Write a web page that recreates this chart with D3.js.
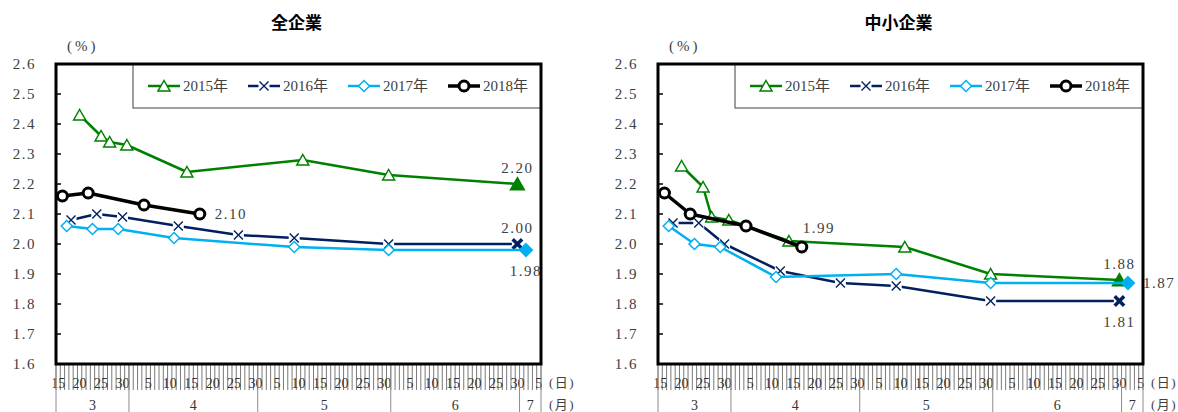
<!DOCTYPE html>
<html>
<head>
<meta charset="utf-8">
<script src="https://cdn.jsdelivr.net/npm/d3@7"></script>
<style>
  body { margin: 0; background: #fff; }
  svg { display: block; }
</style>
</head>
<body>
<svg id="chart" width="1178" height="412"></svg>
<script>
// ---- data -------------------------------------------------------------
// Survey dates (month-day) for each year
const dates2015 = ["03-20", "03-25", "03-27", "03-31", "04-14", "05-11", "05-31", "06-30"];
const dates2016 = ["03-18", "03-24", "03-30", "04-12", "04-26", "05-09", "05-31", "06-30"];
const dates2017 = ["03-17", "03-23", "03-29", "04-11", "05-09", "05-31", "07-02"];
const dates2018 = ["03-16", "03-22", "04-04", "04-17"];

// 全企業 (%)
const allFirms2015 = [2.43, 2.36, 2.34, 2.33, 2.24, 2.28, 2.23, 2.20];
const allFirms2016 = [2.08, 2.10, 2.09, 2.06, 2.03, 2.02, 2.00, 2.00];
const allFirms2017 = [2.06, 2.05, 2.05, 2.02, 1.99, 1.98, 1.98];
const allFirms2018 = [2.16, 2.17, 2.13, 2.10];

// 中小企業 (%)
const smallFirms2015 = [2.26, 2.19, 2.09, 2.08, 2.01, 1.99, 1.90, 1.88];
const smallFirms2016 = [2.07, 2.07, 2.00, 1.91, 1.87, 1.86, 1.81, 1.81];
const smallFirms2017 = [2.06, 2.00, 1.99, 1.89, 1.90, 1.87, 1.87];
const smallFirms2018 = [2.17, 2.10, 2.06, 1.99];

const seriesNames = ["2015年", "2016年", "2017年", "2018年"];
const monthLabels = ["3", "4", "5", "6", "7"];
const yTickValues = [1.6, 1.7, 1.8, 1.9, 2.0, 2.1, 2.2, 2.3, 2.4, 2.5, 2.6];

// Value labels: which series' last point is annotated and where the text sits
const allFirmsLabels = [
  { series: 0, place: "above" },
  { series: 1, place: "above" },
  { series: 2, place: "below" },
  { series: 3, place: "right" }
];
const smallFirmsLabels = [
  { series: 0, place: "above" },
  { series: 1, place: "below" },
  { series: 2, place: "right" },
  { series: 3, place: "aboveRight" }
];

// ---- styling ----------------------------------------------------------
const styles = [
  { color: "#008000", width: 2.5, marker: "triangle", fillLast: true },
  { color: "#002060", width: 2.5, marker: "cross", fillLast: true },
  { color: "#00B0F0", width: 2.5, marker: "diamond", fillLast: true },
  { color: "#000000", width: 3.5, marker: "circle", fillLast: false }
];
const SERIF = "'Liberation Serif', 'DejaVu Serif', serif";
const CJK = "'Liberation Serif', 'Noto Sans CJK JP', serif";
const TXT = "#404040";

// Plot frame (shared by both panels, panels offset horizontally)
const L = 56, R = 541, T = 64, B = 364;

// Axis calendar: every day from 15 Mar to 5 Jul
const fmtKey = d3.timeFormat("%m-%d");
const axisDays = d3.timeDay.range(new Date(2018, 2, 15), new Date(2018, 6, 6));
const axisKeys = axisDays.map(fmtKey);

const svg = d3.select("#chart");

function markerPath(kind, s) {
  if (kind === "triangle") return `M0,${-5.5 * s}L${6 * s},${5 * s}L${-6 * s},${5 * s}Z`;
  if (kind === "diamond") return `M0,${-5.5 * s}L${5.5 * s},0L0,${5.5 * s}L${-5.5 * s},0Z`;
  if (kind === "cross") return `M${-4.5 * s},${-4.5 * s}L${4.5 * s},${4.5 * s}M${4.5 * s},${-4.5 * s}L${-4.5 * s},${4.5 * s}`;
  return null;
}

function drawMarker(g, st, cx, cy, filled) {
  const m = g.append("g").attr("transform", `translate(${cx},${cy})`);
  if (st.marker === "circle") {
    m.append("circle").attr("r", 5).attr("fill", "#fff")
      .attr("stroke", st.color).attr("stroke-width", 3);
  } else if (st.marker === "cross") {
    m.append("rect").attr("x", -5.5).attr("y", -5.5).attr("width", 11).attr("height", 11)
      .attr("fill", "#fff");
    m.append("path").attr("d", markerPath("cross", filled ? 1.05 : 1))
      .attr("fill", "none").attr("stroke", st.color)
      .attr("stroke-width", filled ? 3.5 : 1.4);
  } else {
    m.append("path").attr("d", markerPath(st.marker, filled ? 1.15 : 1))
      .attr("fill", filled ? st.color : "#fff")
      .attr("stroke", st.color).attr("stroke-width", 1.5);
  }
}

function drawPanel(ox, title, dateSets, valueSets, labels) {
  const g = svg.append("g").attr("transform", `translate(${ox},0)`);
  const x = d3.scaleBand().domain(axisKeys).range([L, R]);
  const bw = x.bandwidth();
  const y = d3.scaleLinear().domain([1.6, 2.6]).range([B, T]);
  const px = k => x(k) + bw / 2;

  // title and unit
  g.append("text").attr("x", (L + R) / 2 - 2).attr("y", 29)
    .attr("text-anchor", "middle").attr("font-family", "'Noto Sans CJK JP', sans-serif")
    .attr("font-weight", "bold").attr("font-size", 17).attr("fill", "#000").text(title);
  g.append("text").attr("x", 67).attr("y", 51)
    .attr("font-family", SERIF).attr("font-size", 15).attr("letter-spacing", 3)
    .attr("fill", TXT).text("(%)");

  // y tick labels
  g.selectAll("text.ytl").data(yTickValues).join("text")
    .attr("class", "ytl")
    .attr("x", 36).attr("y", d => y(d) + 5)
    .attr("text-anchor", "end").attr("font-family", SERIF).attr("font-size", 15)
    .attr("letter-spacing", 1.5).attr("fill", TXT)
    .text(d3.format(".1f"));

  // inward y ticks
  g.selectAll("line.yt").data(yTickValues).join("line")
    .attr("class", "yt")
    .attr("x1", L).attr("x2", L + 5).attr("y1", d => y(d)).attr("y2", d => y(d))
    .attr("stroke", "#000").attr("stroke-width", 1.5);

  // daily tick marks under the plot
  const bounds = axisKeys.map(k => x(k)).concat([R]);
  g.selectAll("line.dt").data(bounds).join("line")
    .attr("class", "dt")
    .attr("x1", d => d).attr("x2", d => d).attr("y1", B).attr("y2", B + 26)
    .attr("stroke", "#7a7a7a").attr("stroke-width", 1);

  // day labels every fifth day
  const labelledDays = axisDays.filter(d => d.getDate() % 5 === 0);
  g.selectAll("text.dl").data(labelledDays).join("text")
    .attr("class", "dl")
    .attr("x", d => px(fmtKey(d))).attr("y", 388)
    .attr("text-anchor", "middle").attr("font-family", SERIF).attr("font-size", 14)
    .attr("fill", "#333").text(d => d.getDate());

  // month groups
  const months = d3.groups(axisDays, d => d.getMonth());
  const monthSpans = months.map(([m, ds], i) => ({
    label: monthLabels[i],
    x0: x(fmtKey(ds[0])),
    x1: x(fmtKey(ds[ds.length - 1])) + bw
  }));
  const sepX = [monthSpans[0].x0].concat(monthSpans.map(s => s.x1));
  g.selectAll("line.ms").data(sepX).join("line")
    .attr("class", "ms")
    .attr("x1", d => d).attr("x2", d => d).attr("y1", B).attr("y2", 412)
    .attr("stroke", "#8c8c8c").attr("stroke-width", 1);
  g.selectAll("text.ml").data(monthSpans).join("text")
    .attr("class", "ml")
    .attr("x", d => (d.x0 + d.x1) / 2).attr("y", 410)
    .attr("text-anchor", "middle").attr("font-family", SERIF).attr("font-size", 14)
    .attr("fill", "#333").text(d => d.label);

  g.append("text").attr("x", R + 8).attr("y", 387)
    .attr("font-family", CJK).attr("font-size", 13).attr("letter-spacing", 1.5)
    .attr("fill", TXT).text("(日)");
  g.append("text").attr("x", R + 8).attr("y", 409)
    .attr("font-family", CJK).attr("font-size", 13).attr("letter-spacing", 1.5)
    .attr("fill", TXT).text("(月)");

  // series
  const line = d3.line().x(d => px(d.k)).y(d => y(d.v));
  const allPts = [];
  valueSets.forEach((vals, si) => {
    const st = styles[si];
    const pts = vals.map((v, i) => ({ k: dateSets[si][i], v }));
    allPts.push(pts);
    g.append("path").datum(pts).attr("d", line)
      .attr("fill", "none").attr("stroke", st.color)
      .attr("stroke-width", st.width).attr("stroke-linejoin", "round");
    pts.forEach((p, i) => {
      const last = i === pts.length - 1;
      drawMarker(g, st, px(p.k), y(p.v), last && st.fillLast);
    });
  });

  // value labels on the latest points
  labels.forEach(lb => {
    const pts = allPts[lb.series];
    const p = pts[pts.length - 1];
    const cx = px(p.k), cy = y(p.v);
    let tx = cx, ty = cy, anchor = "middle";
    if (lb.place === "above") { ty = cy - 11; }
    else if (lb.place === "below") { ty = cy + 26; }
    else if (lb.place === "right") { tx = cx + 15; ty = cy + 5; anchor = "start"; }
    else if (lb.place === "aboveRight") { tx = cx + 1; ty = cy - 14; anchor = "start"; }
    g.append("text").attr("x", tx).attr("y", ty).attr("text-anchor", anchor)
      .attr("font-family", SERIF).attr("font-size", 15).attr("letter-spacing", 1.5)
      .attr("fill", TXT).text(d3.format(".2f")(p.v));
  });

  // legend
  const lgX = 133, lgY = T, lgH = 44;
  g.append("rect").attr("x", lgX).attr("y", lgY).attr("width", R - lgX).attr("height", lgH)
    .attr("fill", "#fff").attr("stroke", "#404040").attr("stroke-width", 1);
  seriesNames.forEach((name, si) => {
    const st = styles[si];
    const ix = 148 + si * 100, iy = lgY + 22;
    g.append("line").attr("x1", ix).attr("x2", ix + 32).attr("y1", iy).attr("y2", iy)
      .attr("stroke", st.color).attr("stroke-width", st.width);
    drawMarker(g, st, ix + 16, iy, false);
    g.append("text").attr("x", ix + 35).attr("y", iy + 5)
      .attr("font-family", CJK).attr("font-size", 15).attr("fill", TXT).text(name);
  });

  // plot frame
  g.append("rect").attr("x", L).attr("y", T).attr("width", R - L).attr("height", B - T)
    .attr("fill", "none").attr("stroke", "#000").attr("stroke-width", 3);
}

drawPanel(0, "全企業",
  [dates2015, dates2016, dates2017, dates2018],
  [allFirms2015, allFirms2016, allFirms2017, allFirms2018],
  allFirmsLabels);
drawPanel(602, "中小企業",
  [dates2015, dates2016, dates2017, dates2018],
  [smallFirms2015, smallFirms2016, smallFirms2017, smallFirms2018],
  smallFirmsLabels);
</script>
</body>
</html>
